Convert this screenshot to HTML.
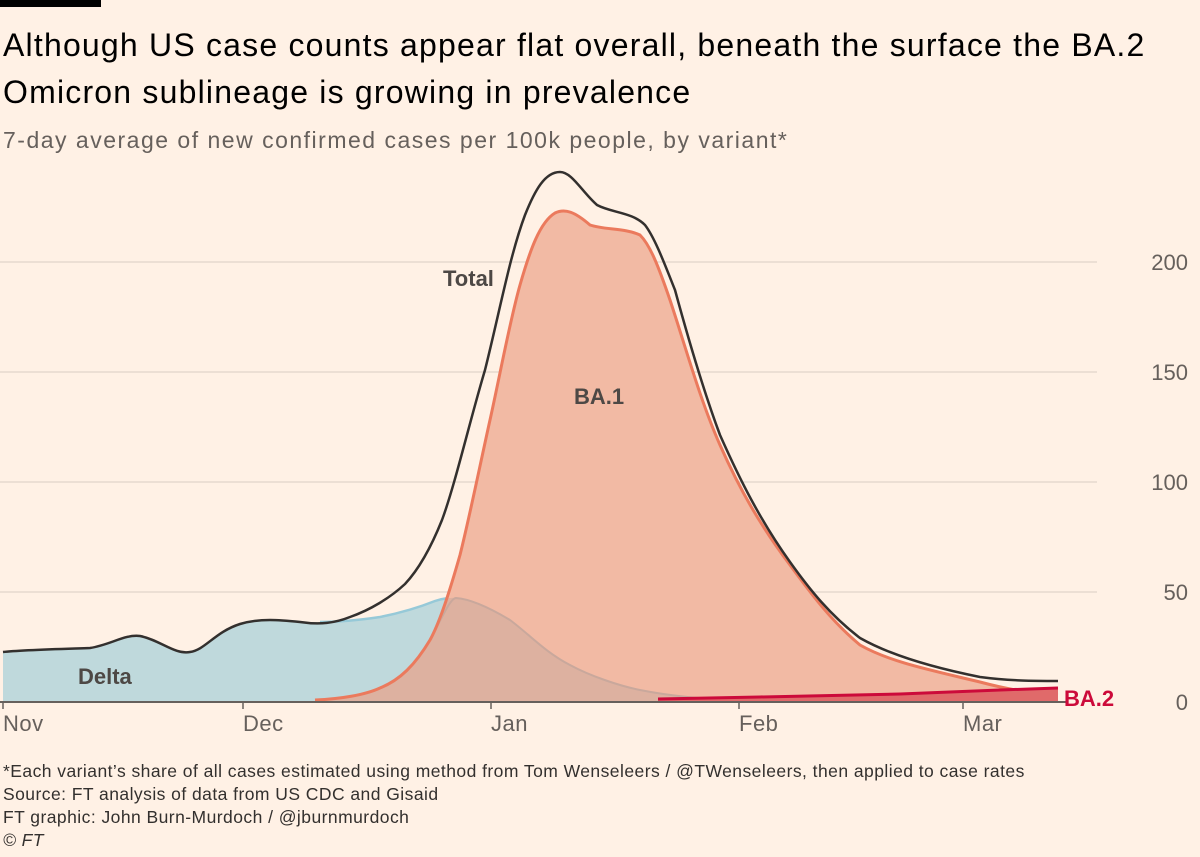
<!DOCTYPE html>
<html><head><meta charset="utf-8"><style>
body{margin:0;width:1200px;height:857px;background:#fff1e5;font-family:"Liberation Sans",sans-serif;overflow:hidden;position:relative}
.bar{position:absolute;left:0;top:0;width:101px;height:7px;background:#000}
h1{position:absolute;left:3px;top:22px;margin:0;font-weight:normal;font-size:32px;letter-spacing:1.2px;line-height:47px;color:#000;white-space:nowrap}
.sub{position:absolute;left:3px;top:127px;font-size:23px;letter-spacing:1.5px;color:#66605c;white-space:nowrap}
.foot{position:absolute;left:3px;top:760px;font-size:17.5px;letter-spacing:0.45px;line-height:23px;color:#33302e;white-space:nowrap}
</style></head><body>
<div class="bar"></div>
<h1>Although US case counts appear flat overall, beneath the surface the BA.2<br>Omicron sublineage is growing in prevalence</h1>
<div class="sub">7-day average of new confirmed cases per 100k people, by variant*</div>
<svg width="1200" height="857" style="position:absolute;left:0;top:0">
<g stroke="#e6d9ce" stroke-width="1.5">
<line x1="0" x2="1097" y1="592" y2="592"/><line x1="0" x2="1097" y1="482" y2="482"/>
<line x1="0" x2="1097" y1="372" y2="372"/><line x1="0" x2="1097" y1="262" y2="262"/>
</g>
<g font-size="22" fill="#66605c" text-anchor="end">
<text x="1188" y="710">0</text><text x="1188" y="600">50</text><text x="1188" y="490">100</text><text x="1188" y="380">150</text><text x="1188" y="270">200</text>
</g>
<defs><clipPath id="ba1c"><path id="ba1p" d="M315,702 L315,700 C340,699 365,695 380,688 C400,680 415,665 430,640 C440,622 450,590 460,555 C470,515 480,465 490,420 C500,375 510,320 520,285 C530,250 540,222 555,213 C565,208 575,212 590,225 C605,230 625,228 640,235 C650,245 658,265 670,300 C685,345 700,400 720,445 C740,490 760,525 790,565 C810,592 830,620 860,645 C890,662 930,670 980,682 C1010,690 1035,694 1058,695 L1058,702 Z"/></clipPath></defs>
<path id="delta" d="M3,702 L3,652 C20,650 60,649 90,648 C110,645 125,634 140,636 C160,640 175,655 190,652 C205,650 215,632 240,624 C260,618 280,620 300,622 C320,625 340,622 360,620 C380,616 400,612 420,607 C435,602 445,597 455,598 C470,599 490,608 510,620 C530,635 545,652 570,665 C590,676 620,686 640,690 C670,696 700,699 760,702 Z" fill="#bfd9dc"/>
<path d="M320,622 C340,622 360,620 380,617 C400,613 420,607 435,601 C443,598 450,598 456,598" fill="none" stroke="#96c9d8" stroke-width="2.5"/>
<use href="#ba1p" fill="#f2baa4"/>
<path d="M3,702 L3,652 C20,650 60,649 90,648 C110,645 125,634 140,636 C160,640 175,655 190,652 C205,650 215,632 240,624 C260,618 280,620 300,622 C320,625 340,622 360,620 C380,616 400,612 420,607 C435,602 445,597 455,598 C470,599 490,608 510,620 C530,635 545,652 570,665 C590,676 620,686 640,690 C670,696 700,699 760,702 Z" fill="#c3a79c" fill-opacity="0.45" clip-path="url(#ba1c)"/>
<path d="M430,640 C440,622 450,598 456,598 C470,599 490,608 510,620 C530,635 545,652 570,665 C590,676 620,686 640,690 C670,696 700,699 760,702" fill="none" stroke="#c9a89c" stroke-width="2" clip-path="url(#ba1c)"/>
<path d="M315,700 C340,699 365,695 380,688 C400,680 415,665 430,640 C440,622 450,590 460,555 C470,515 480,465 490,420 C500,375 510,320 520,285 C530,250 540,222 555,213 C565,208 575,212 590,225 C605,230 625,228 640,235 C650,245 658,265 670,300 C685,345 700,400 720,445 C740,490 760,525 790,565 C810,592 830,620 860,645 C890,662 930,670 980,682 C1010,690 1035,694 1058,695" fill="none" stroke="#eb7a5d" stroke-width="3"/>
<path d="M658,702 L658,699 L760,697 L900,694 L1000,690 L1058,688 L1058,702 Z" fill="#e06a6a"/>
<path d="M658,699 L760,697 L900,694 L1000,690 L1058,688" fill="none" stroke="#cc0a3a" stroke-width="3"/>
<path d="M3,652 C20,650 60,649 90,648 C110,645 125,634 140,636 C160,640 175,655 190,652 C205,650 215,632 240,624 C260,618 280,620 300,622 C320,625 335,623 350,617 C370,610 390,598 405,584 C420,568 432,545 442,520 C455,485 470,420 485,370 C500,310 510,255 525,215 C535,190 545,172 560,172 C572,172 582,192 597,205 C612,213 632,212 645,225 C655,238 665,265 675,290 C690,345 705,395 720,435 C740,480 760,520 790,562 C810,590 830,615 860,638 C890,655 930,667 980,677 C1010,681 1035,681 1058,681" fill="none" stroke="#33302e" stroke-width="2.5"/>
<line x1="0" x2="1068" y1="702" y2="702" stroke="#66605c" stroke-width="2"/>
<g stroke="#66605c" stroke-width="1.5"><line x1="3" x2="3" y1="702" y2="709"/><line x1="243" x2="243" y1="702" y2="709"/><line x1="491" x2="491" y1="702" y2="709"/><line x1="739" x2="739" y1="702" y2="709"/><line x1="963" x2="963" y1="702" y2="709"/></g>
<g font-size="22" fill="#66605c" letter-spacing="0.5"><text x="3" y="731">Nov</text><text x="243" y="731">Dec</text><text x="491" y="731">Jan</text><text x="739" y="731">Feb</text><text x="963" y="731">Mar</text></g>
<g font-size="22" font-weight="bold" fill="#4d4845"><text x="443" y="286">Total</text><text x="574" y="404">BA.1</text><text x="78" y="684">Delta</text></g>
<text x="1064" y="706" font-size="22" font-weight="bold" fill="#cc0a3a">BA.2</text>
</svg>
<div class="foot">*Each variant’s share of all cases estimated using method from Tom Wenseleers / @TWenseleers, then applied to case rates<br>Source: FT analysis of data from US CDC and Gisaid<br>FT graphic: John Burn-Murdoch / @jburnmurdoch<br><i>© FT</i></div>
</body></html>
